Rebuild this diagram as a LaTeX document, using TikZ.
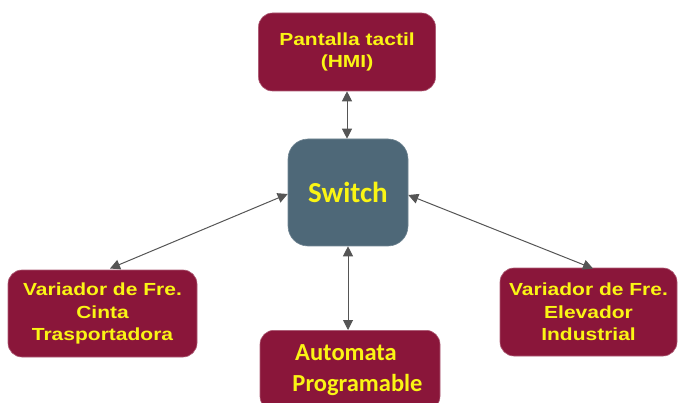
\documentclass[tikz,border=0pt]{standalone}
\usepackage{fontspec}
\setmainfont{Liberation Sans}[FakeStretch=1.2]
\newfontfamily\calib{Carlito}
\usetikzlibrary{arrows.meta}
\definecolor{maroon}{RGB}{138,22,58}
\definecolor{slate}{RGB}{78,104,120}
\definecolor{txt}{RGB}{250,245,20}
\definecolor{arr}{RGB}{85,85,85}
\tikzset{
  box/.style={draw=maroon!70!white, line width=0.6pt, fill=maroon, rounded corners=14pt, text=txt, font=\bfseries\fontsize{17.5}{22.5}\selectfont, align=center, inner sep=0pt},
  sw/.style={draw=slate!80!white, line width=0.6pt, fill=slate, rounded corners=20pt, text=txt, font=\calib\bfseries\fontsize{29}{32}\selectfont, inner sep=0pt, minimum width=120pt, minimum height=107pt},
  conn/.style={draw=arr, line width=1pt, {Triangle[length=10pt,width=10pt]}-{Triangle[length=10pt,width=10pt]}}
}
\begin{document}
\begin{tikzpicture}[x=1pt,y=-1pt]
\useasboundingbox (0,0) rectangle (682,403);
\node[box, minimum width=177pt, minimum height=78pt] (hmi) at (347,52) {Pantalla tactil\\(HMI)};
\node[sw] (sw) at (348,192.5) {Switch};
\node[box, minimum width=189pt, minimum height=87pt] (left) at (102.5,313.5) {Variador de Fre.\\Cinta\\Trasportadora};
\node[box, minimum width=177pt, minimum height=88pt] (right) at (588.5,312) {Variador de Fre.\\Elevador\\Industrial};
\node[box, minimum width=180pt, minimum height=80pt, font=\calib\bfseries\fontsize{24.5}{31}\selectfont, anchor=north] (plc) at (350,330) {\hspace*{-8pt}Automata\\\hspace*{15pt}Programable};
\coordinate (lt) at (110,268.5);
\coordinate (rt) at (593,268.5);
\draw[conn] (hmi.south -| 347,0) -- (sw.north -| 347,0);
\draw[conn] (lt) -- (sw.west |- 0,194);
\draw[conn] (rt) -- (sw.east |- 0,195);
\draw[conn] (sw.south) -- (plc.north -| sw.south);
\end{tikzpicture}
\end{document}
